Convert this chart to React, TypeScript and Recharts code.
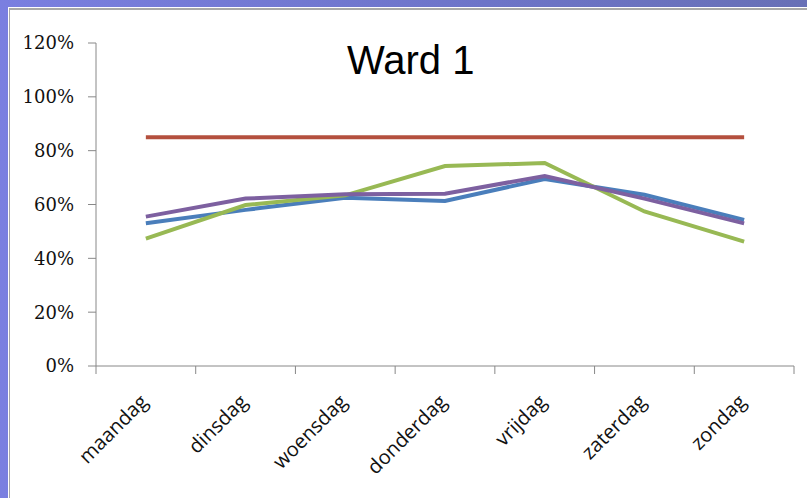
import { LineChart, Line, XAxis, YAxis } from 'recharts'

const DAYS = ['maandag', 'dinsdag', 'woensdag', 'donderdag', 'vrijdag', 'zaterdag', 'zondag']
const BLUE = [53, 58, 62.5, 61.3, 69.5, 63.6, 54.3]
const RED = [85, 85, 85, 85, 85, 85, 85]
const GREEN = [47.3, 59.8, 63.4, 74.3, 75.4, 57.4, 46.2]
const PURPLE = [55.5, 62.2, 63.8, 64, 70.6, 62.2, 53]
const Y_TICKS = [0, 20, 40, 60, 80, 100, 120]

const W = 807
const H = 498
const MARGIN = { top: 43, right: 13, bottom: 32, left: 36 }
const Y_AXIS_W = 60
const HALF_BAND = (W - MARGIN.left - MARGIN.right - Y_AXIS_W) / DAYS.length / 2

// x runs 0..7, each day sits in the middle of its slot
const data = DAYS.map((day, i) => ({
  pos: i + 0.5,
  day,
  blue: BLUE[i],
  red: RED[i],
  green: GREEN[i],
  purple: PURPLE[i],
}))

const slotEdges = DAYS.map((_, i) => i).concat(DAYS.length)

function DayTick({ x, y, payload }: { x?: number; y?: number; payload?: { value: number } }) {
  const label = DAYS[payload?.value ?? -1]
  if (!label) return <g />
  return (
    <g transform={`translate(${(x ?? 0) + HALF_BAND + 3},${(y ?? 0) + 27})`}>
      <text
        textAnchor="end"
        transform="rotate(-45)"
        fill="#111"
        style={{ fontFamily: '"Open Sans", sans-serif', fontSize: 20 }}
      >
        {label}
      </text>
    </g>
  )
}

export default function App() {
  return (
    <div
      style={{
        position: 'absolute',
        left: 0,
        top: 0,
        width: W,
        height: H,
        overflow: 'hidden',
        background: 'linear-gradient(90deg, #7a7fe0 0%, #6d74c8 60%, #6870b6 100%)',
      }}
    >
      <div
        style={{
          position: 'absolute',
          left: 8,
          top: 7,
          right: 0,
          bottom: 0,
          borderLeft: '1px solid #fff',
          borderTop: '1px solid #fff',
        }}
      >
        <div
          style={{
            position: 'absolute',
            left: 0,
            top: 0,
            right: 0,
            bottom: 0,
            background: '#fff',
            borderLeft: '1px solid #a8a8a8',
            borderTop: '2px solid #a8a8a8',
          }}
        />
      </div>
      <div
        style={{
          position: 'absolute',
          left: 347,
          top: 38,
          fontFamily: '"Liberation Sans", Arial, sans-serif',
          fontSize: 40,
          color: '#000',
          whiteSpace: 'nowrap',
        }}
      >
        Ward 1
      </div>
      <div style={{ position: 'absolute', left: 0, top: 0 }}>
        <LineChart width={W} height={H} data={data} margin={MARGIN}>
          <XAxis
            dataKey="pos"
            type="number"
            domain={[0, DAYS.length]}
            ticks={slotEdges}
            interval={0}
            tickSize={8}
            stroke="#888"
            tick={<DayTick />}
            height={100}
          />
          <YAxis
            domain={[0, 120]}
            ticks={Y_TICKS}
            interval={0}
            width={Y_AXIS_W}
            tickSize={8}
            tickMargin={14}
            stroke="#888"
            tickFormatter={(v: number) => `${v}%`}
            tick={{ fill: '#111', fontFamily: '"DejaVu Serif", serif', fontSize: 18 }}
          />
          <Line dataKey="blue" stroke="#4a7ebb" strokeWidth={4} dot={false} isAnimationActive={false} />
          <Line dataKey="red" stroke="#b4503e" strokeWidth={4} dot={false} isAnimationActive={false} />
          <Line dataKey="green" stroke="#98b954" strokeWidth={4} dot={false} isAnimationActive={false} />
          <Line dataKey="purple" stroke="#7d60a0" strokeWidth={4} dot={false} isAnimationActive={false} />
        </LineChart>
      </div>
    </div>
  )
}
